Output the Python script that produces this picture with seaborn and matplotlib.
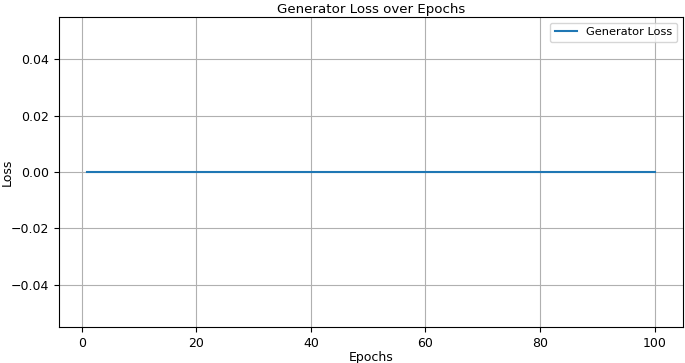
import matplotlib
matplotlib.use("Agg")
import matplotlib.pyplot as plt
import seaborn as sns

# generator loss stayed at zero for every epoch
epochs = list(range(1, 101))
gen_loss = [0.0] * 100

fig, ax = plt.subplots(figsize=(6.85, 3.63), dpi=100)
fig.subplots_adjust(left=59/685, right=683/685, top=1-17/363, bottom=1-327/363)

sns.lineplot(x=epochs, y=gen_loss, ax=ax, label='Generator Loss', color='#1f77b4')
ax.set_title('Generator Loss over Epochs', fontsize=9.6, pad=3)
ax.set_xlabel('Epochs', fontsize=9, labelpad=1)
ax.set_ylabel('Loss', fontsize=9)
ax.yaxis.set_label_coords(-0.072, 0.5)
ax.tick_params(labelsize=9)
ax.set_xticks([0, 20, 40, 60, 80, 100])
ax.grid(True)
ax.legend(loc='upper right', fontsize=8.2)

plt.savefig('out.png', dpi=100)
